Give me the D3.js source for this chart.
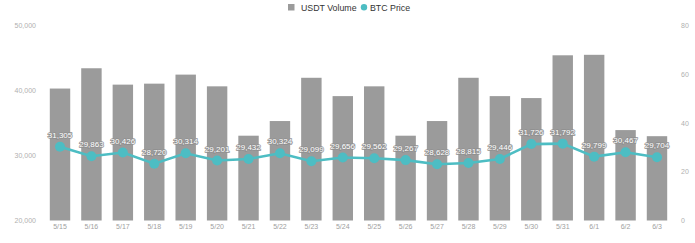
<!DOCTYPE html>
<html>
<head>
<meta charset="utf-8">
<script src="https://cdn.jsdelivr.net/npm/d3@7/dist/d3.min.js"></script>
<style>
  html, body { margin: 0; padding: 0; background: #fff; }
  svg { display: block; font-family: "Liberation Sans", Arial, sans-serif; }
</style>
</head>
<body>
<svg id="chart" width="695" height="243"></svg>
<script>
// Daily dates
const dates = ["5/15","5/16","5/17","5/18","5/19","5/20","5/21","5/22","5/23","5/24",
               "5/25","5/26","5/27","5/28","5/29","5/30","5/31","6/1","6/2","6/3"];
// USDT trading volume (right axis)
const usdtVolume = [54.0, 62.3, 55.6, 56.0, 59.7, 54.9, 34.7, 40.7, 58.4, 50.9,
                    54.9, 34.7, 40.7, 58.4, 50.9, 50.1, 67.6, 67.8, 37.0, 34.5];
// BTC closing price (left axis)
const btcPrice = [31305, 29863, 30426, 28720, 30314, 29201, 29432, 30324, 29099, 29656,
                  29562, 29267, 28628, 28815, 29446, 31726, 31792, 29799, 30467, 29704];
// Axis ticks
const leftTicks = [20000, 30000, 40000, 50000];
const rightTicks = [0, 20, 40, 60, 80];
const seriesNames = ["USDT Volume", "BTC Price"];

const barColor = "#9b9b9b";
const lineColor = "#4dbdc3";

const svg = d3.select("#chart");

const x = d3.scaleBand()
  .domain(dates)
  .range([44.3, 672.7])
  .paddingInner(0.35)
  .paddingOuter(0.175);

const yLeft = d3.scaleLinear().domain([20000, 50000]).range([220.5, 25]);
const yRight = d3.scaleLinear().domain([0, 80]).range([220.5, 25]);

// Left axis
const leftAxis = svg.append("g")
  .attr("transform", "translate(36,0)")
  .call(d3.axisLeft(yLeft).tickValues(leftTicks).tickSize(0).tickPadding(0)
    .tickFormat(d3.format(",")));
leftAxis.select(".domain").remove();
leftAxis.selectAll("text").attr("fill", "#b0b0b0").style("font-size", "7px");

// Right axis
const rightAxis = svg.append("g")
  .attr("transform", "translate(681,0)")
  .call(d3.axisRight(yRight).tickValues(rightTicks).tickSize(0).tickPadding(0));
rightAxis.select(".domain").remove();
rightAxis.selectAll("text").attr("fill", "#b0b0b0").style("font-size", "7px");

// Bottom axis
const bottomAxis = svg.append("g")
  .attr("transform", "translate(0,224)")
  .call(d3.axisBottom(x).tickSize(0).tickPadding(0));
bottomAxis.select(".domain").remove();
bottomAxis.selectAll("text").attr("fill", "#a0a0a0").style("font-size", "7px");

// Volume bars
svg.append("g").selectAll("rect")
  .data(dates)
  .join("rect")
  .attr("x", d => x(d))
  .attr("width", x.bandwidth())
  .attr("y", (d, i) => yRight(usdtVolume[i]))
  .attr("height", (d, i) => yRight(0) - yRight(usdtVolume[i]))
  .attr("fill", barColor);

// Price line
const line = d3.line()
  .x((d, i) => x(dates[i]) + x.bandwidth() / 2)
  .y(d => yLeft(d));

svg.append("path")
  .datum(btcPrice)
  .attr("d", line)
  .attr("fill", "none")
  .attr("stroke", lineColor)
  .attr("stroke-width", 2.6);

svg.append("g").selectAll("circle")
  .data(btcPrice)
  .join("circle")
  .attr("cx", (d, i) => x(dates[i]) + x.bandwidth() / 2)
  .attr("cy", d => yLeft(d))
  .attr("r", 5)
  .attr("fill", lineColor);

// Price labels
svg.append("g").selectAll("text")
  .data(btcPrice)
  .join("text")
  .attr("x", (d, i) => x(dates[i]) + x.bandwidth() / 2)
  .attr("y", d => yLeft(d) - 9)
  .attr("text-anchor", "middle")
  .style("font-size", "8px")
  .attr("fill", "#ffffff")
  .attr("stroke", "#8f8f8f")
  .attr("stroke-width", 1.4)
  .attr("paint-order", "stroke")
  .text(d => d3.format(",")(d));

// Legend
const legend = svg.append("g").style("font-size", "8.8px").attr("fill", "#333");
legend.append("rect").attr("x", 288).attr("y", 4).attr("width", 6.5).attr("height", 6.5).attr("fill", barColor);
legend.append("text").attr("x", 301).attr("y", 10.5).text(seriesNames[0]);
legend.append("circle").attr("cx", 364).attr("cy", 7.3).attr("r", 3.2).attr("fill", lineColor);
legend.append("text").attr("x", 370).attr("y", 10.5).text(seriesNames[1]);
</script>
</body>
</html>
